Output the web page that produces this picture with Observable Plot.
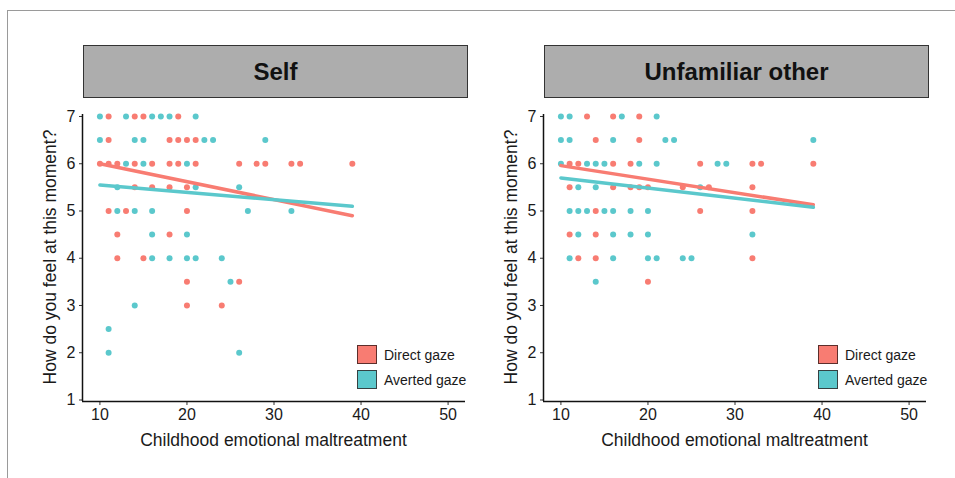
<!DOCTYPE html>
<html>
<head>
<meta charset="utf-8">
<script src="https://cdn.jsdelivr.net/npm/d3@7"></script>
<script src="https://cdn.jsdelivr.net/npm/@observablehq/plot@0.6"></script>
<style>
  body { margin: 0; background: #fff; }
  #root { position: relative; width: 955px; height: 478px; overflow: hidden; background: #fff;
          font-family: "Liberation Sans", Arial, sans-serif; color: #1a1a1a; }
  .frame { position: absolute; left: 7px; top: 10px; width: 1000px; height: 1000px;
           border-top: 1.5px solid #9a9a9a; border-left: 1.5px solid #9a9a9a; }
  .panel { position: absolute; top: 0; width: 477px; height: 478px; }
  .panel svg { position: absolute; left: 0; top: 0; }
  .strip { position: absolute; left: 83px; top: 45px; width: 383px; height: 51px;
           background: #adadad; border: 1px solid #333; display: flex; align-items: center;
           justify-content: center; font-weight: bold; font-size: 24px; color: #111; }
  .xlab { position: absolute; left: 82px; width: 383px; top: 430px; text-align: center; font-size: 17.5px; }
  .ylab { position: absolute; left: 50px; top: 257px; transform: translate(-50%, -50%) rotate(-90deg);
          white-space: nowrap; font-size: 17.5px; }
  .lkey { position: absolute; left: 357px; width: 18px; height: 17px; border: 1px solid rgba(40,20,20,0.75); }
  .ltxt { position: absolute; left: 384px; font-size: 14px; line-height: 16px; white-space: nowrap; }
</style>
</head>
<body>
<div id="root"><div class="frame"></div></div>
<script>
// ---- data ----
const panels = ["Self", "Unfamiliar other"];
const groups = ["Direct gaze", "Averted gaze"];
const colors = ["#F87C72", "#5BC8CC"];
const xTicks = [10, 20, 30, 40, 50];
const yTicks = [1, 2, 3, 4, 5, 6, 7];
const xLabel = "Childhood emotional maltreatment";
const yLabel = "How do you feel at this moment?";

// Self, Direct gaze
const selfDirectX = [11,14,15,19, 11,18,19,20,21, 10,11,12,14,16,18,19,21,26,28,29,32,33,39, 14,16,18,20, 11,13,20, 12,18, 12,15, 20,26, 20,24];
const selfDirectY = [7,7,7,7, 6.5,6.5,6.5,6.5,6.5, 6,6,6,6,6,6,6,6,6,6,6,6,6,6, 5.5,5.5,5.5,5.5, 5,5,5, 4.5,4.5, 4,4, 3.5,3.5, 3,3];
// Self, Averted gaze
const selfAvertedX = [10,13,16,17,18,21, 10,14,15,22,23,29, 13,15,20, 12,21,26, 12,14,16,27,32, 16,20, 16,18,20,21,24, 25, 14, 11, 11,26];
const selfAvertedY = [7,7,7,7,7,7, 6.5,6.5,6.5,6.5,6.5,6.5, 6,6,6, 5.5,5.5,5.5, 5,5,5,5,5, 4.5,4.5, 4,4,4,4,4, 3.5, 3, 2.5, 2,2];
// Unfamiliar other, Direct gaze
const otherDirectX = [13,16,19, 14,19, 11,12,16,18,26,32,33,39, 11,16,18,19,20,24,27,32, 14,26,32, 11,14, 12,14,32, 20];
const otherDirectY = [7,7,7, 6.5,6.5, 6,6,6,6,6,6,6,6, 5.5,5.5,5.5,5.5,5.5,5.5,5.5,5.5, 5,5,5, 4.5,4.5, 4,4,4, 3.5];
// Unfamiliar other, Averted gaze
const otherAvertedX = [10,11,17,21, 10,11,16,22,23,39, 10,13,14,15,19,21,28,29, 12,14,26, 11,12,13,15,16,18,20, 12,16,18,20,32, 11,16,20,21,24,25, 14];
const otherAvertedY = [7,7,7,7, 6.5,6.5,6.5,6.5,6.5,6.5, 6,6,6,6,6,6,6,6, 5.5,5.5,5.5, 5,5,5,5,5,5,5, 4.5,4.5,4.5,4.5,4.5, 4,4,4,4,4,4, 3.5];

// Fitted regression lines: value at x = fitX[0] and fitX[1]
const fitX = [10, 39];
const selfDirectFit = [6.00, 4.90];
const selfAvertedFit = [5.55, 5.10];
const otherDirectFit = [5.96, 5.13];
const otherAvertedFit = [5.70, 5.08];

// ---- build ----
function rows(xs, ys, g) { return xs.map((x, i) => ({x, y: ys[i], g})); }
const panelData = [
  {title: panels[0],
   pts: [...rows(selfDirectX, selfDirectY, groups[0]), ...rows(selfAvertedX, selfAvertedY, groups[1])],
   fit: [...rows(fitX, selfDirectFit, groups[0]), ...rows(fitX, selfAvertedFit, groups[1])]},
  {title: panels[1],
   pts: [...rows(otherDirectX, otherDirectY, groups[0]), ...rows(otherAvertedX, otherAvertedY, groups[1])],
   fit: [...rows(fitX, otherDirectFit, groups[0]), ...rows(fitX, otherAvertedFit, groups[1])]}
];

const xDom = [8, 52];
const yDom = [0.968, 7.042];
const root = document.getElementById("root");
const lefts = [0, 461];

panelData.forEach((p, k) => {
  const div = document.createElement("div");
  div.className = "panel";
  div.style.left = lefts[k] + "px";
  const chart = Plot.plot({
    width: 477, height: 478,
    marginLeft: 82, marginRight: 12, marginTop: 114, marginBottom: 77,
    style: {fontFamily: "'Liberation Sans', Arial, sans-serif", fontSize: "16px", color: "#1a1a1a", background: "transparent", overflow: "visible"},
    x: {domain: xDom},
    y: {domain: yDom},
    color: {domain: groups, range: colors},
    marks: [
      Plot.axisX({ticks: xTicks, tickFormat: d3.format("d"), tickSize: 4, tickPadding: 3, label: null, fontSize: 16, stroke: "#333"}),
      Plot.axisY({ticks: yTicks, tickFormat: d3.format("d"), tickSize: 3, tickPadding: 4, label: null, fontSize: 16, stroke: "#333"}),
      Plot.ruleX([xDom[0]], {y1: yDom[0], y2: yDom[1], stroke: "#111", strokeWidth: 1.5}),
      Plot.ruleY([yDom[0]], {x1: xDom[0], x2: xDom[1], stroke: "#111", strokeWidth: 1.5}),
      Plot.dot(p.pts, {x: "x", y: "y", fill: "g", r: 3}),
      Plot.line(p.fit, {x: "x", y: "y", stroke: "g", z: "g", strokeWidth: 3.5})
    ]
  });
  div.appendChild(chart);

  const strip = document.createElement("div");
  strip.className = "strip";
  strip.textContent = p.title;
  div.appendChild(strip);

  const xl = document.createElement("div");
  xl.className = "xlab"; xl.textContent = xLabel; div.appendChild(xl);
  const yl = document.createElement("div");
  yl.className = "ylab"; yl.textContent = yLabel; div.appendChild(yl);

  groups.forEach((g, i) => {
    const key = document.createElement("div");
    key.className = "lkey";
    key.style.top = (345 + i * 25) + "px";
    key.style.background = colors[i];
    div.appendChild(key);
    const t = document.createElement("div");
    t.className = "ltxt";
    t.style.top = (347 + i * 25) + "px";
    t.textContent = g;
    div.appendChild(t);
  });
  root.appendChild(div);
});
</script>
</body>
</html>
